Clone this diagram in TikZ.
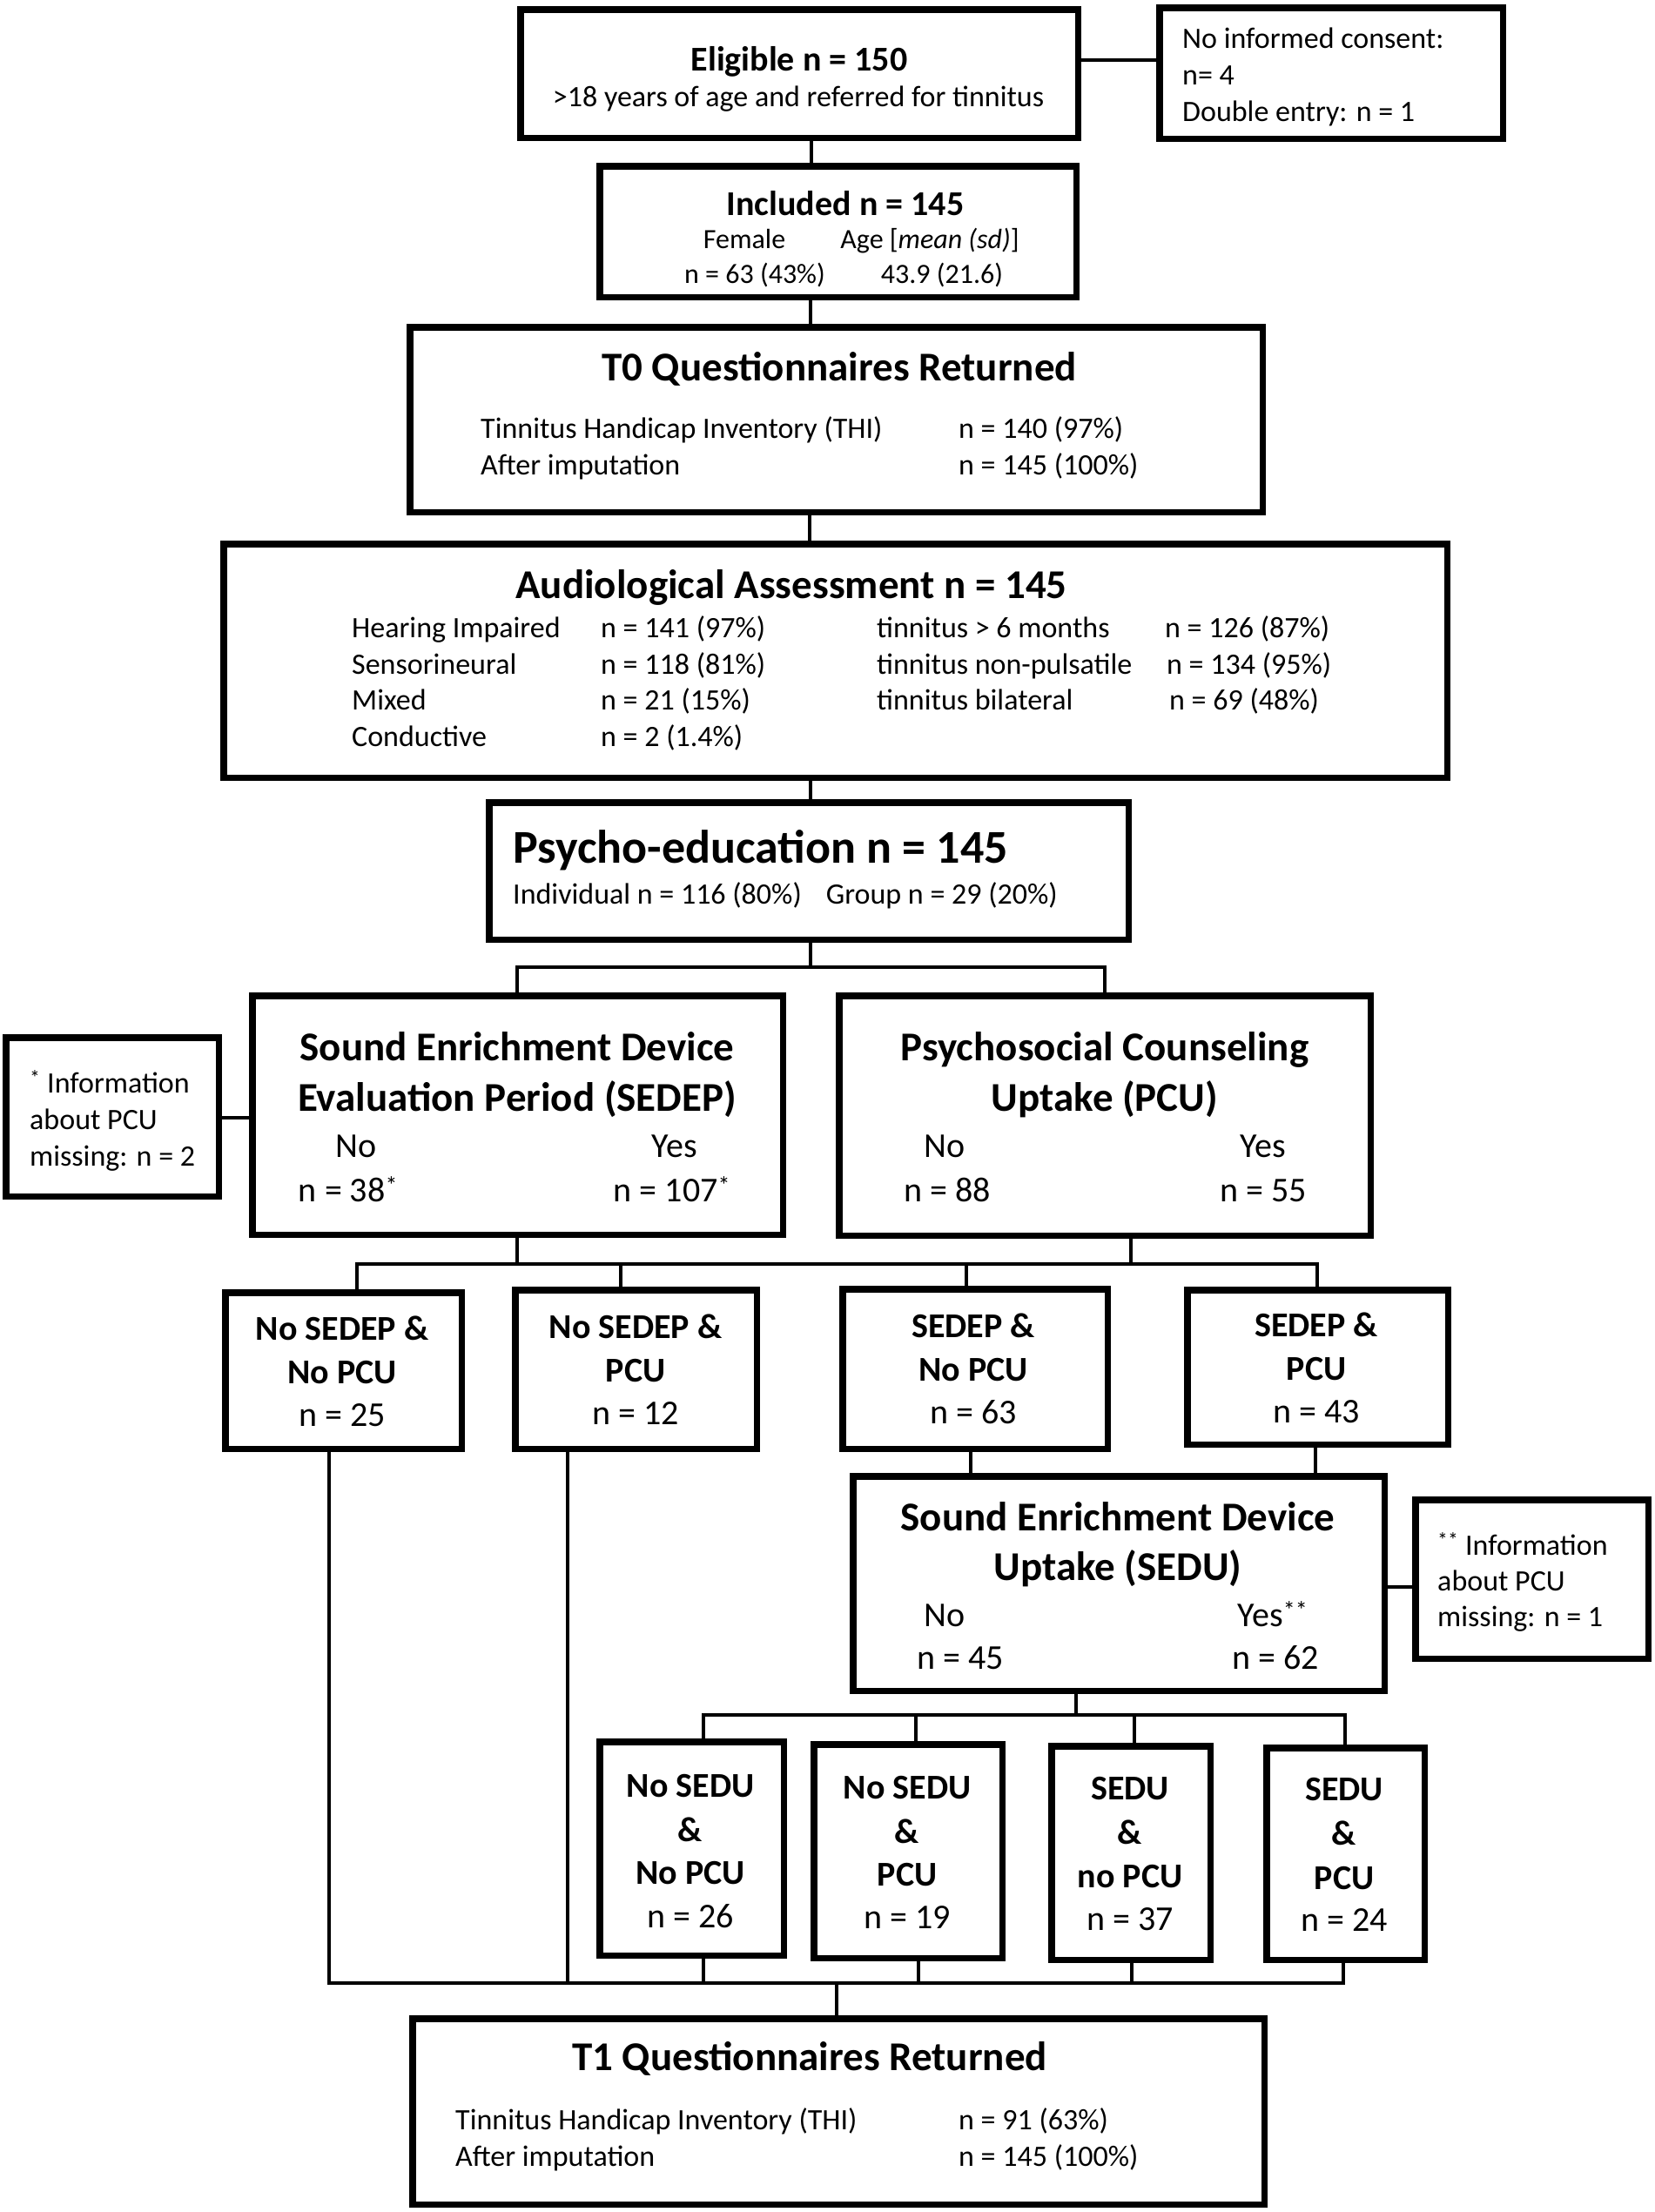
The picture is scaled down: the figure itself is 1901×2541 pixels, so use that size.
\documentclass[tikz,border=0pt]{standalone}
\usepackage{fontspec}
\setmainfont{Carlito}
\newcommand\mybox[5]{\node[bx, minimum width={#4-#2-7.5}, minimum height={#5-#3-7.5}] (#1) at ({(#2+#4)/2},{(#3+#5)/2}) {};}
\tikzset{
  bx/.style={draw, line width=7.5pt, inner sep=0pt, fill=white},
  ln/.style={line width=4pt},
  tbig/.style={font=\fontsize{47}{56}\selectfont\bfseries, inner sep=0pt, anchor=mid, yshift=-13pt},
  thuge/.style={font=\fontsize{54}{64}\selectfont\bfseries, inner sep=0pt, anchor=mid west, yshift=-15pt},
  tmid/.style={font=\fontsize{40}{48}\selectfont\bfseries, inner sep=0pt, anchor=mid, yshift=-12pt},
  tlarge/.style={font=\fontsize{40}{48}\selectfont, inner sep=0pt, anchor=mid, yshift=-11pt},
  treg/.style={font=\fontsize{34}{40}\selectfont, inner sep=0pt, anchor=mid west, yshift=-10pt},
  tregc/.style={font=\fontsize{32}{40}\selectfont, inner sep=0pt, anchor=mid, yshift=-7pt},
}
\begin{document}
\begin{tikzpicture}[x=1pt,y=-1pt]
\useasboundingbox[fill=white] (0,0) rectangle (1901,2541);

% connector coordinates
\coordinate (yA) at (0,69);
\coordinate (xA) at (932,0);
\coordinate (xB) at (931,0);
\coordinate (xC) at (930,0);
\coordinate (brOne) at (931,1111);
\coordinate (brOneL) at (594,1111);
\coordinate (brOneR) at (1269,1111);
\coordinate (yInfoA) at (0,1284);
\coordinate (brTwoA) at (594,1452);
\coordinate (brTwoB) at (1299,1452);
\coordinate (brTwoL) at (410,1452);
\coordinate (brTwoM) at (713,1452);
\coordinate (brTwoN) at (1110,1452);
\coordinate (brTwoR) at (1513,1452);
\coordinate (xC3) at (1115,0);
\coordinate (xD3) at (1511,0);
\coordinate (yInfoB) at (0,1823);
\coordinate (brThree) at (1236,1970);
\coordinate (brThreeL) at (808,1970);
\coordinate (brThreeM) at (1052,1970);
\coordinate (brThreeN) at (1303,1970);
\coordinate (brThreeR) at (1545,1970);
\coordinate (brFourA) at (378,2278);
\coordinate (brFourB) at (652,2278);
\coordinate (brFourC) at (808,2278);
\coordinate (brFourD) at (1055,2278);
\coordinate (brFourE) at (1300,2278);
\coordinate (brFourF) at (1543,2278);
\coordinate (brFourR) at (1545,2278);
\coordinate (brFourMid) at (961,2278);

% boxes
\mybox{elig}{594}{7}{1242}{162}
\mybox{consent}{1328}{5}{1730}{163}
\mybox{incl}{685}{187}{1240}{345}
\mybox{tzero}{467}{372}{1454}{592}
\mybox{audio}{253}{621}{1666}{897}
\mybox{psy}{558}{918}{1300}{1083}
\mybox{sedep}{286}{1140}{903}{1422}
\mybox{pcu}{960}{1140}{1578}{1423}
\mybox{infoA}{3}{1188}{255}{1378}
\mybox{bA}{255}{1481}{534}{1668}
\mybox{bB}{588}{1478}{873}{1668}
\mybox{bC}{964}{1477}{1276}{1668}
\mybox{bD}{1360}{1478}{1667}{1663}
\mybox{sedu}{976}{1692}{1594}{1946}
\mybox{infoB}{1622}{1719}{1897}{1909}
\mybox{sA}{685}{1997}{904}{2250}
\mybox{sB}{931}{2000}{1155}{2253}
\mybox{sC}{1204}{2002}{1394}{2255}
\mybox{sD}{1451}{2004}{1640}{2255}
\mybox{tone}{470}{2315}{1456}{2536}

% connectors
\draw[ln] (elig.east |- yA) -- (consent.west |- yA);
\draw[ln] (xA |- elig.south) -- (xA |- incl.north);
\draw[ln] (xB |- incl.south) -- (xB |- tzero.north);
\draw[ln] (xC |- tzero.south) -- (xC |- audio.north);
\draw[ln] (xB |- audio.south) -- (xB |- psy.north);
\draw[ln] (xB |- psy.south) -- (brOne);
\draw[ln] (brOneL |- sedep.north) -- (brOneL) -- (brOneR) -- (brOneR |- pcu.north);
\draw[ln] (infoA.east |- yInfoA) -- (sedep.west |- yInfoA);
\draw[ln] (brTwoA |- sedep.south) -- (brTwoA);
\draw[ln] (brTwoB |- pcu.south) -- (brTwoB);
\draw[ln] (brTwoL |- bA.north) -- (brTwoL) -- (brTwoR) -- (brTwoR |- bD.north);
\draw[ln] (brTwoM) -- (brTwoM |- bB.north);
\draw[ln] (brTwoN) -- (brTwoN |- bC.north);
\draw[ln] (xC3 |- bC.south) -- (xC3 |- sedu.north);
\draw[ln] (xD3 |- bD.south) -- (xD3 |- sedu.north);
\draw[ln] (sedu.east |- yInfoB) -- (infoB.west |- yInfoB);
\draw[ln] (brThree |- sedu.south) -- (brThree);
\draw[ln] (brThreeL |- sA.north) -- (brThreeL) -- (brThreeR) -- (brThreeR |- sD.north);
\draw[ln] (brThreeM) -- (brThreeM |- sB.north);
\draw[ln] (brThreeN) -- (brThreeN |- sC.north);
\draw[ln] (brFourA |- bA.south) -- (brFourA) -- (brFourR);
\draw[ln] (brFourB |- bB.south) -- (brFourB);
\draw[ln] (brFourC |- sA.south) -- (brFourC);
\draw[ln] (brFourD |- sB.south) -- (brFourD);
\draw[ln] (brFourE |- sC.south) -- (brFourE);
\draw[ln] (brFourF |- sD.south) -- (brFourF);
\draw[ln] (brFourMid) -- (brFourMid |- tone.north);

% texts: eligible
\node[tmid] (tEl1) at (918,67) {Eligible n = 150};
\node[tregc, font=\fontsize{34}{40}\selectfont] (tEl2) at (917,113) {>18 years of age and referred for tinnitus};
\node[treg] (tCo1) at (1358,43) {No informed consent:};
\node[treg] (tCo2) at (1358,85) {n= 4};
\node[treg] (tCo3) at (1358,127) {Double entry: n = 1};
% included
\node[tmid] (tIn1) at (971,233) {Included n = 145};
\node[tregc] (tIn2) at (855,276) {Female};
\node[tregc] (tIn3) at (1068,276) {Age [\textit{mean (sd)}]};
\node[tregc] (tIn4) at (867,316) {n = 63 (43\%)};
\node[tregc] (tIn5) at (1082,316) {43.9 (21.6)};
% T0
\node[tbig] (tT0) at (964,422) {T0 Questionnaires Returned};
\node[treg] (tT01) at (552,491) {Tinnitus Handicap Inventory (THI)};
\node[treg] (tT02) at (552,533) {After imputation};
\node[treg] (tT03) at (1101,491) {n = 140 (97\%)};
\node[treg] (tT04) at (1101,533) {n = 145 (100\%)};
% audiological
\node[tbig] (tAu) at (909,672) {Audiological Assessment n = 145};
\node[treg] (tAu11) at (404,720) {Hearing Impaired};
\node[treg] (tAu12) at (690,720) {n = 141 (97\%)};
\node[treg] (tAu13) at (1007,720) {tinnitus > 6 months};
\node[treg] (tAu14) at (1338,720) {n = 126 (87\%)};
\node[treg] (tAu21) at (404,762) {Sensorineural};
\node[treg] (tAu22) at (690,762) {n = 118 (81\%)};
\node[treg] (tAu23) at (1007,762) {tinnitus non-pulsatile};
\node[treg] (tAu24) at (1340,762) {n = 134 (95\%)};
\node[treg] (tAu31) at (404,803) {Mixed};
\node[treg] (tAu32) at (690,803) {n = 21 (15\%)};
\node[treg] (tAu33) at (1007,803) {tinnitus bilateral};
\node[treg] (tAu34) at (1343,803) {n = 69 (48\%)};
\node[treg] (tAu41) at (404,845) {Conductive};
\node[treg] (tAu42) at (690,845) {n = 2 (1.4\%)};
% psycho-education
\node[thuge] (tPs) at (589,974) {Psycho-education n = 145};
\node[treg] (tPs2) at (589,1026) {Individual n = 116 (80\%)\hspace{0.6em} Group n = 29 (20\%)};
% SEDEP
\node[tbig] (tSe1) at (594,1203) {Sound Enrichment Device};
\node[tbig] (tSe2) at (594,1261) {Evaluation Period (SEDEP)};
\node[tlarge] (tSe3) at (409,1316) {No};
\node[tlarge] (tSe4) at (775,1316) {Yes};
\node[tlarge] (tSe5) at (400,1367) {n = 38\textsuperscript{*}};
\node[tlarge] (tSe6) at (772,1367) {n = 107\textsuperscript{*}};
% PCU
\node[tbig] (tPc1) at (1269,1203) {Psychosocial Counseling};
\node[tbig] (tPc2) at (1269,1261) {Uptake (PCU)};
\node[tlarge] (tPc3) at (1085,1316) {No};
\node[tlarge] (tPc4) at (1451,1316) {Yes};
\node[tlarge] (tPc5) at (1088,1367) {n = 88};
\node[tlarge] (tPc6) at (1451,1367) {n = 55};
% info A
\node[treg] (tIa1) at (34,1243) {\textsuperscript{*} Information};
\node[treg] (tIa2) at (34,1285) {about PCU};
\node[treg] (tIa3) at (34,1327) {missing: n = 2};
% four boxes
\node[tmid] (tbA1) at (393,1525) {No SEDEP \&};
\node[tmid] (tbA2) at (393,1575) {No PCU};
\node[tlarge] (tbA3) at (393,1625) {n = 25};
\node[tmid] (tbB1) at (730,1523) {No SEDEP \&};
\node[tmid] (tbB2) at (730,1573) {PCU};
\node[tlarge] (tbB3) at (730,1623) {n = 12};
\node[tmid] (tbC1) at (1118,1522) {SEDEP \&};
\node[tmid] (tbC2) at (1118,1572) {No PCU};
\node[tlarge] (tbC3) at (1118,1622) {n = 63};
\node[tmid] (tbD1) at (1512,1521) {SEDEP \&};
\node[tmid] (tbD2) at (1512,1571) {PCU};
\node[tlarge] (tbD3) at (1512,1621) {n = 43};
% SEDU
\node[tbig] (tSu1) at (1284,1743) {Sound Enrichment Device};
\node[tbig] (tSu2) at (1284,1800) {Uptake (SEDU)};
\node[tlarge] (tSu3) at (1085,1855) {No};
\node[tlarge] (tSu4) at (1462,1855) {Yes\textsuperscript{**}};
\node[tlarge] (tSu5) at (1103,1904) {n = 45};
\node[tlarge] (tSu6) at (1465,1904) {n = 62};
% info B
\node[treg] (tIb1) at (1651,1774) {\textsuperscript{**} Information};
\node[treg] (tIb2) at (1651,1815) {about PCU};
\node[treg] (tIb3) at (1651,1856) {missing: n = 1};
% SEDU boxes
\node[tmid] (tsA1) at (793,2050) {No SEDU};
\node[tmid] (tsA2) at (793,2101) {\&};
\node[tmid] (tsA3) at (793,2150) {No PCU};
\node[tlarge] (tsA4) at (793,2201) {n = 26};
\node[tmid] (tsB1) at (1042,2052) {No SEDU};
\node[tmid] (tsB2) at (1042,2103) {\&};
\node[tmid] (tsB3) at (1042,2152) {PCU};
\node[tlarge] (tsB4) at (1042,2202) {n = 19};
\node[tmid] (tsC1) at (1298,2053) {SEDU};
\node[tmid] (tsC2) at (1298,2104) {\&};
\node[tmid] (tsC3) at (1298,2154) {no PCU};
\node[tlarge] (tsC4) at (1298,2204) {n = 37};
\node[tmid] (tsD1) at (1544,2054) {SEDU};
\node[tmid] (tsD2) at (1544,2105) {\&};
\node[tmid] (tsD3) at (1544,2156) {PCU};
\node[tlarge] (tsD4) at (1544,2205) {n = 24};
% T1
\node[tbig] (tT1) at (930,2363) {T1 Questionnaires Returned};
\node[treg] (tT11) at (523,2434) {Tinnitus Handicap Inventory (THI)};
\node[treg] (tT12) at (523,2476) {After imputation};
\node[treg] (tT13) at (1101,2434) {n = 91 (63\%)};
\node[treg] (tT14) at (1101,2476) {n = 145 (100\%)};
\end{tikzpicture}
\end{document}
